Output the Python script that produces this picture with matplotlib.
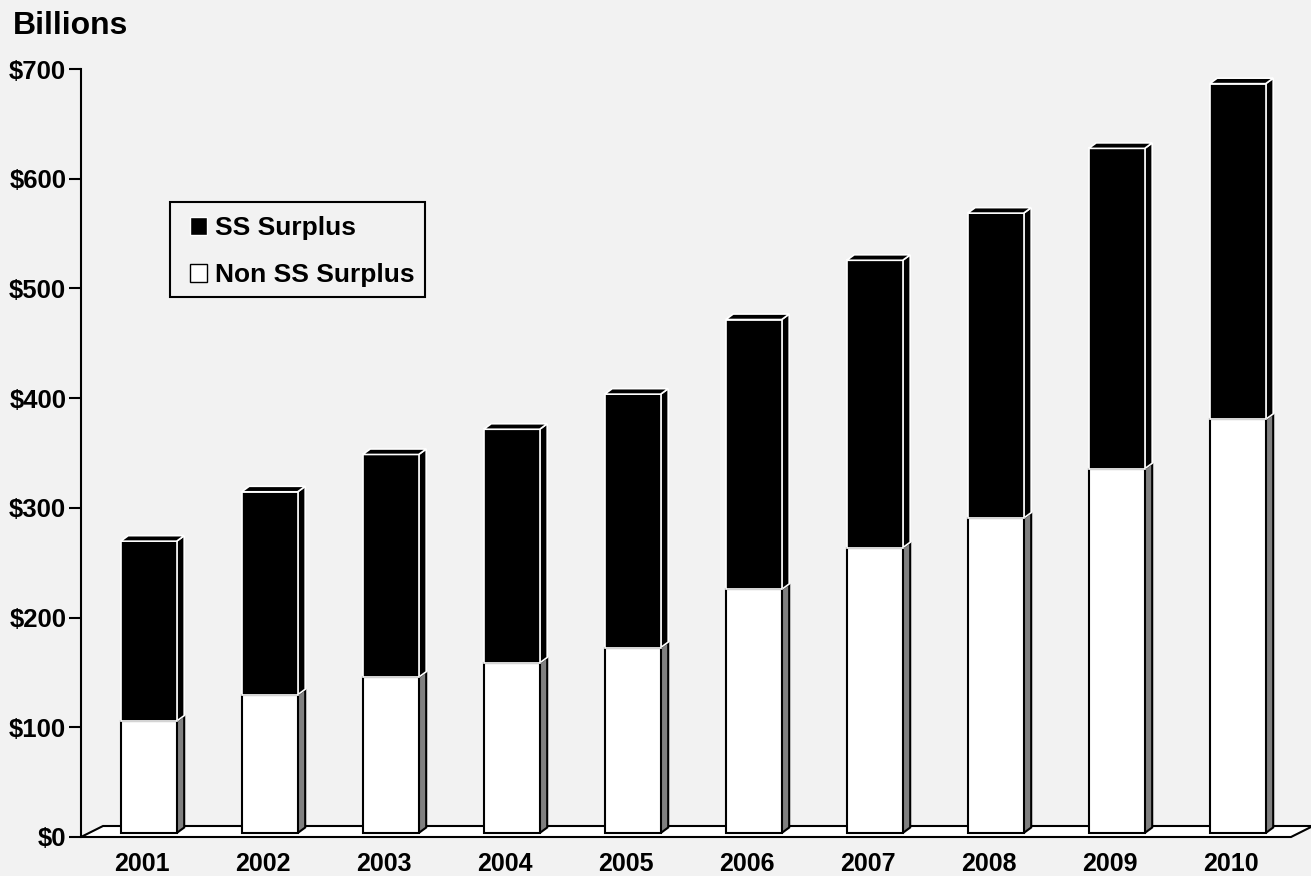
import matplotlib
matplotlib.use('Agg')
import matplotlib.pyplot as plt
from matplotlib.patches import Polygon, Patch, Rectangle

# values in billions
years = ['2001', '2002', '2003', '2004', '2005', '2006', '2007', '2008', '2009', '2010']
non_ss_surplus = [102, 126, 142, 155, 169, 222, 260, 287, 332, 377]
ss_surplus = [164, 185, 203, 213, 231, 246, 262, 278, 292, 306]
y_ticks = [0, 100, 200, 300, 400, 500, 600, 700]
y_tick_labels = ['$0', '$100', '$200', '$300', '$400', '$500', '$600', '$700']

BG = '#f2f2f2'
SIDE = '#808080'

plt.rcParams['font.family'] = ['Liberation Sans', 'DejaVu Sans']
plt.rcParams['font.weight'] = 'bold'

W, H = 1311, 876
fig = plt.figure(figsize=(W / 100, H / 100), dpi=100, facecolor=BG)
ax = fig.add_axes([81 / W, 39 / H, 1210 / W, 768 / H])
ax.set_facecolor(BG)
ax.set_xlim(-0.5, 9.5)
ax.set_ylim(0, 700)

# pixel -> data unit helpers (axes is 1210 x 768 px)
px_x = 1210 / 10
px_y = 768 / 700
depth_x, depth_y = 7.5 / px_x, 5.5 / px_y
floor_x, floor_y = 22 / px_x, 11 / px_y
base_x, base_y = 7.2 / px_x, 4 / px_y
bar_w = 56 / px_x

# floor
ax.add_patch(Polygon([(-0.5, 0), (9.5, 0), (9.5 + floor_x, floor_y), (-0.5 + floor_x, floor_y)],
                     closed=True, facecolor='white', edgecolor='black', lw=1.5,
                     clip_on=False, zorder=1))


def box(x0, y0, y1, face, side, edge, lw, top=False):
    x1 = x0 + bar_w
    ax.add_patch(Polygon([(x1, y0), (x1 + depth_x, y0 + depth_y), (x1 + depth_x, y1 + depth_y), (x1, y1)],
                         closed=True, facecolor=side, edgecolor=edge, lw=lw, zorder=2, clip_on=False))
    ax.add_patch(Polygon([(x0, y0), (x1, y0), (x1, y1), (x0, y1)],
                         closed=True, facecolor=face, edgecolor=edge, lw=lw, zorder=3, clip_on=False))
    if top:
        ax.add_patch(Polygon([(x0, y1), (x1, y1), (x1 + depth_x, y1 + depth_y), (x0 + depth_x, y1 + depth_y)],
                             closed=True, facecolor=face, edgecolor=edge, lw=lw, zorder=3, clip_on=False))


for i, (lo, hi) in enumerate(zip(non_ss_surplus, ss_surplus)):
    x0 = i - bar_w / 2 + base_x
    b = base_y
    box(x0, b, b + lo, 'white', SIDE, 'black', 1.5)
    box(x0, b + lo, b + lo + hi, 'black', 'black', 'white', 1.2, top=True)

# axes styling
for s in ['top', 'right', 'bottom']:
    ax.spines[s].set_visible(False)
ax.spines['left'].set_linewidth(1.5)
ax.set_yticks(y_ticks)
ax.set_yticklabels(y_tick_labels)
ax.set_xticks(range(len(years)))
ax.set_xticklabels(years)
ax.tick_params(axis='y', length=8.6, width=1.5, pad=2, labelsize=18.5)
ax.tick_params(axis='x', length=0, pad=11, labelsize=18)

# legend: content without frame, frame drawn as a separate rectangle
handles = [Patch(facecolor='black', edgecolor='white'), Patch(facecolor='white', edgecolor='black')]
leg = ax.legend(handles, ['SS Surplus', 'Non SS Surplus'], loc='upper left',
                bbox_to_anchor=(190 / W, 1 - 216 / H), bbox_transform=fig.transFigure,
                frameon=False, fontsize=19, handlelength=0.66, handleheight=0.66,
                handletextpad=0.3, borderpad=0, labelspacing=0.88, borderaxespad=0)
fig.patches.append(Rectangle((170 / W, 1 - 297 / H), 255 / W, 95 / H, transform=fig.transFigure,
                             facecolor='none', edgecolor='black', lw=1.5))

fig.text(13 / W, 1 - 34 / H, 'Billions', fontsize=23, fontweight='bold', va='baseline')

fig.savefig('out.png', dpi=100, facecolor=BG)
